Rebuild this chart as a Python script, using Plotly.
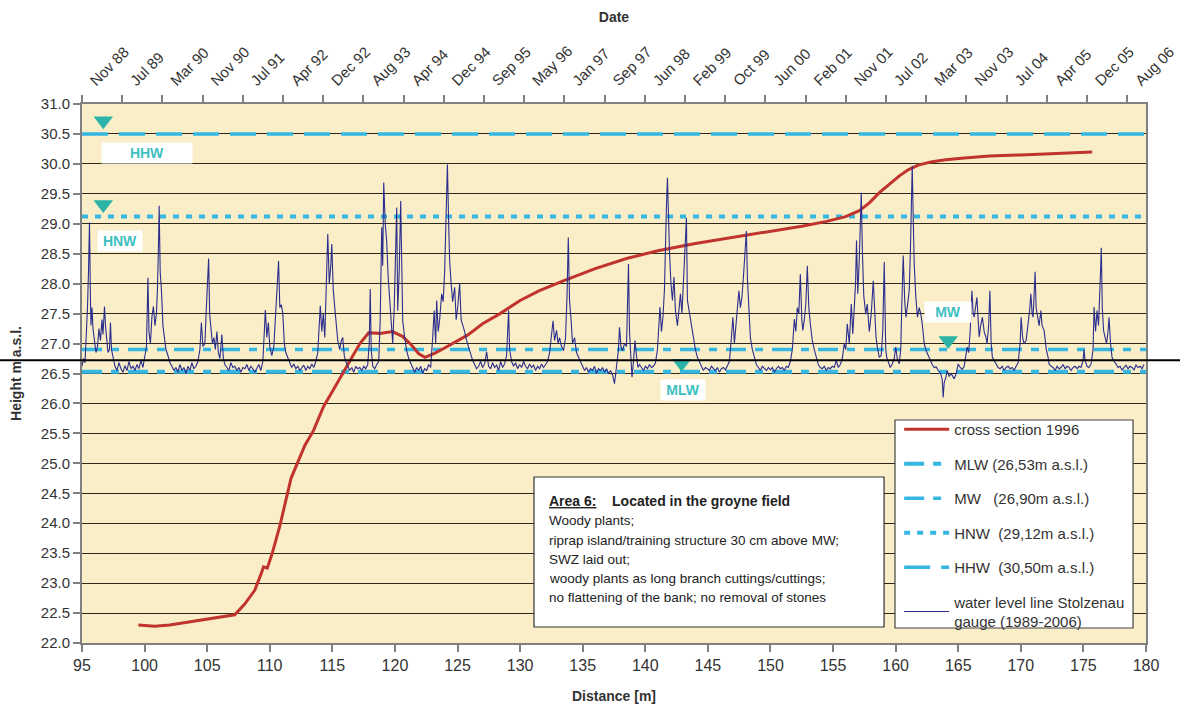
import plotly.graph_objects as go

# ---------------- data ----------------
DIST_RANGE = [95, 180]
HEIGHT_RANGE = [22, 31]

# top (date) axis: time in months since Nov 1988 (axis runs a little past the last tick)
DATE_LABELS = ["Nov 88", "Jul 89", "Mar 90", "Nov 90", "Jul 91", "Apr 92", "Dec 92", "Aug 93",
               "Apr 94", "Dec 94", "Sep 95", "May 96", "Jan 97", "Sep 97", "Jun 98", "Feb 99",
               "Oct 99", "Jun 00", "Feb 01", "Nov 01", "Jul 02", "Mar 03", "Nov 03", "Jul 04",
               "Apr 05", "Dec 05", "Aug 06"]
DATE_RANGE = [0, 213]
DATE_TICK_STEP = 8.048

# cross section 1996 (distance m, height m a.s.l.)
CS_X = [99.5, 100.8, 102.0, 103.5, 105.0, 106.2, 107.2, 108.0, 108.8, 109.3, 109.5, 109.8,
        110.2, 110.8, 111.3, 111.7, 112.2, 112.8, 113.5, 114.3, 115.0, 115.8, 116.5, 117.2,
        117.9, 118.8, 119.8, 120.6, 121.3, 121.9, 122.4, 123.2, 124.0, 124.8, 125.8, 127.0,
        128.4, 130.0, 131.5, 133.5, 136.0, 138.5, 141.0, 144.0, 147.0, 150.0, 152.5, 154.5,
        156.0, 157.1, 157.9, 158.7, 159.5, 160.3, 161.0, 161.8, 162.8, 164.0, 165.5, 167.5,
        170.0, 173.0, 175.7]
CS_Y = [22.30, 22.28, 22.30, 22.35, 22.40, 22.43, 22.47, 22.65, 22.88, 23.15, 23.27, 23.25,
        23.50, 23.95, 24.40, 24.75, 25.00, 25.30, 25.55, 25.95, 26.20, 26.50, 26.75, 27.00,
        27.18, 27.17, 27.20, 27.12, 26.98, 26.83, 26.77, 26.84, 26.93, 27.02, 27.14, 27.33,
        27.50, 27.72, 27.88, 28.05, 28.25, 28.42, 28.55, 28.67, 28.77, 28.87, 28.96, 29.04,
        29.12, 29.22, 29.35, 29.52, 29.66, 29.80, 29.90, 29.98, 30.03, 30.07, 30.10, 30.13,
        30.15, 30.18, 30.20]

# reference water levels
LEVEL_NAMES = ["MLW (26,53m a.s.l.)", "MW\u00a0\u00a0\u00a0(26,90m a.s.l.)",
               "HNW\u00a0\u00a0(29,12m a.s.l.)", "HHW\u00a0\u00a0(30,50m a.s.l.)"]
LEVEL_VALUES = [26.53, 26.90, 29.12, 30.50]

# water level line Stolzenau gauge: (months since Nov 1988, m a.s.l.)
WATER_LEVEL = [
    (0.0, 26.62), (0.3, 26.75), (0.6, 26.68), (0.9, 27.2), (1.1, 27.6), (1.3, 28.2), (1.5, 29.02),
    (1.7, 27.7), (1.8, 27.3), (2.0, 27.6), (2.2, 27.25), (2.5, 27.05), (2.8, 26.85), (3.1, 26.95),
    (3.4, 27.25), (3.7, 27.05), (4.0, 27.4), (4.2, 27.15), (4.5, 27.62), (4.7, 27.3), (4.9, 27.1),
    (5.2, 26.85), (5.5, 26.9), (5.7, 27.35), (5.9, 26.9), (6.2, 26.75), (6.6, 26.62), (7.0, 26.55),
    (7.4, 26.68), (7.8, 26.58), (8.2, 26.52), (8.6, 26.63), (9.0, 26.55), (9.4, 26.7), (9.8, 26.58),
    (10.2, 26.62), (10.6, 26.55), (11.0, 26.65), (11.4, 26.58), (11.8, 26.72), (12.2, 26.6),
    (12.6, 26.8), (12.9, 26.95), (13.2, 28.1), (13.4, 27.2), (13.7, 27.0), (14.0, 27.45),
    (14.3, 27.62), (14.6, 27.3), (14.9, 27.5), (15.1, 27.9), (15.3, 28.6), (15.45, 29.3),
    (15.65, 28.2), (15.9, 27.9), (16.2, 27.3), (16.5, 27.1), (16.8, 26.9), (17.2, 26.8),
    (17.6, 26.68), (18.0, 26.62), (18.4, 26.55), (18.8, 26.6), (19.2, 26.52), (19.6, 26.65),
    (20.0, 26.55), (20.4, 26.6), (20.8, 26.5), (21.2, 26.62), (21.6, 26.55), (22.0, 26.68),
    (22.4, 26.58), (22.8, 26.62), (23.2, 26.7), (23.6, 26.9), (23.9, 27.35), (24.2, 26.95),
    (24.6, 27.0), (24.9, 27.6), (25.1, 28.0), (25.35, 28.42), (25.55, 27.5), (25.8, 27.3),
    (26.1, 27.0), (26.4, 27.1), (26.7, 26.9), (27.0, 27.2), (27.3, 26.85), (27.6, 26.75),
    (28.0, 27.15), (28.3, 26.75), (28.6, 26.65), (29.0, 26.6), (29.4, 26.55), (29.8, 26.68),
    (30.2, 26.6), (30.6, 26.62), (31.0, 26.55), (31.4, 26.6), (31.8, 26.52), (32.2, 26.6),
    (32.6, 26.58), (33.0, 26.65), (33.4, 26.55), (33.8, 26.62), (34.2, 26.58), (34.6, 26.52),
    (35.0, 26.6), (35.4, 26.65), (35.8, 26.55), (36.2, 26.7), (36.5, 27.2), (36.7, 27.56),
    (37.0, 27.1), (37.3, 27.35), (37.6, 26.95), (38.0, 26.8), (38.4, 26.95), (38.7, 27.4),
    (39.0, 27.8), (39.35, 28.38), (39.6, 27.6), (39.9, 27.65), (40.2, 27.5), (40.5, 27.0),
    (40.8, 26.85), (41.2, 26.75), (41.6, 26.68), (42.0, 26.6), (42.4, 26.66), (42.8, 26.58),
    (43.2, 26.62), (43.6, 26.55), (44.0, 26.6), (44.4, 26.64), (44.8, 26.55), (45.2, 26.62),
    (45.6, 26.58), (46.0, 26.66), (46.4, 26.6), (46.8, 26.7), (47.2, 26.85), (47.5, 27.3),
    (47.7, 27.63), (48.0, 27.2), (48.3, 27.5), (48.6, 27.1), (48.9, 27.8), (49.2, 28.83),
    (49.5, 28.0), (49.8, 28.3), (50.0, 28.66), (50.3, 27.9), (50.6, 27.6), (50.9, 27.3),
    (51.2, 27.05), (51.6, 26.9), (51.9, 27.05), (52.2, 27.1), (52.5, 26.8), (52.8, 26.7),
    (53.2, 26.62), (53.6, 26.55), (54.0, 26.6), (54.4, 26.52), (54.8, 26.62), (55.2, 26.58),
    (55.6, 26.6), (56.0, 26.55), (56.4, 26.62), (56.8, 26.58), (57.2, 26.65), (57.5, 27.0),
    (57.7, 27.91), (57.9, 26.9), (58.2, 26.62), (58.6, 26.58), (59.0, 26.65), (59.4, 26.7),
    (59.7, 27.4), (60.0, 28.94), (60.2, 28.3), (60.4, 29.69), (60.7, 29.0), (61.0, 28.7),
    (61.3, 28.1), (61.6, 27.75), (61.9, 27.4), (62.2, 27.0), (62.5, 27.6), (62.8, 28.5),
    (63.0, 29.27), (63.2, 27.55), (63.5, 28.2), (63.8, 29.38), (64.0, 28.0), (64.2, 27.38),
    (64.6, 27.1), (65.0, 26.88), (65.4, 26.75), (65.8, 26.68), (66.2, 26.6), (66.6, 26.52),
    (67.0, 26.6), (67.4, 26.55), (67.8, 26.62), (68.2, 26.5), (68.6, 26.58), (69.0, 26.55),
    (69.4, 26.65), (69.8, 26.6), (70.2, 27.1), (70.5, 27.55), (70.8, 27.0), (71.0, 27.72),
    (71.3, 27.2), (71.6, 27.4), (72.0, 27.83), (72.3, 27.7), (72.6, 28.2), (72.9, 29.0),
    (73.15, 29.99), (73.4, 29.0), (73.6, 28.38), (73.9, 28.0), (74.2, 27.7), (74.6, 27.94),
    (74.9, 27.4), (75.2, 27.6), (75.6, 28.0), (75.9, 27.4), (76.2, 27.33), (76.6, 27.2),
    (77.0, 27.05), (77.4, 26.94), (77.8, 26.8), (78.2, 26.72), (78.6, 26.65), (79.0, 26.58),
    (79.4, 26.62), (79.8, 26.7), (80.2, 26.6), (80.6, 26.66), (81.0, 26.86), (81.4, 26.62),
    (81.8, 26.58), (82.2, 26.68), (82.6, 26.6), (83.0, 26.64), (83.4, 26.55), (83.8, 26.7),
    (84.2, 26.6), (84.6, 26.66), (85.0, 26.8), (85.2, 27.1), (85.4, 27.55), (85.6, 26.9),
    (86.0, 26.7), (86.4, 26.62), (86.8, 26.68), (87.2, 26.58), (87.6, 26.65), (88.0, 26.6),
    (88.4, 26.7), (88.8, 26.62), (89.2, 26.58), (89.6, 26.66), (90.0, 26.6), (90.4, 26.64),
    (90.8, 26.55), (91.2, 26.62), (91.6, 26.58), (92.0, 26.66), (92.4, 26.6), (92.8, 26.65),
    (93.2, 26.7), (93.6, 26.85), (94.0, 27.1), (94.3, 27.38), (94.6, 27.05), (95.0, 27.22),
    (95.3, 27.0), (95.6, 27.1), (96.0, 26.95), (96.4, 26.88), (96.8, 27.1), (97.1, 27.8),
    (97.35, 28.77), (97.6, 27.72), (97.9, 27.4), (98.2, 27.0), (98.6, 27.1), (99.0, 26.85),
    (99.4, 26.77), (99.8, 26.7), (100.2, 26.62), (100.6, 26.55), (101.0, 26.6), (101.4, 26.52),
    (101.8, 26.58), (102.2, 26.55), (102.6, 26.62), (103.0, 26.5), (103.4, 26.58), (103.8, 26.55),
    (104.2, 26.6), (104.6, 26.52), (105.0, 26.58), (105.4, 26.5), (105.8, 26.55), (106.2, 26.48),
    (106.6, 26.33), (107.0, 26.6), (107.4, 26.9), (107.6, 27.27), (107.9, 26.95), (108.2, 26.88),
    (108.6, 27.0), (109.0, 26.95), (109.2, 27.6), (109.4, 28.33), (109.6, 27.2), (109.8, 26.88),
    (110.1, 26.44), (110.4, 26.7), (110.7, 27.05), (111.0, 26.8), (111.3, 26.6), (111.6, 26.65),
    (112.0, 26.6), (112.4, 26.55), (112.8, 26.62), (113.2, 26.58), (113.6, 26.65), (114.0, 26.6),
    (114.4, 26.62), (114.8, 26.68), (115.2, 26.9), (115.5, 27.4), (115.7, 27.61), (116.0, 27.2),
    (116.3, 27.44), (116.6, 27.9), (116.8, 28.77), (117.0, 29.3), (117.2, 29.77), (117.4, 28.9),
    (117.6, 28.55), (117.9, 28.0), (118.2, 27.72), (118.5, 28.11), (118.8, 27.55), (119.2, 27.3),
    (119.5, 27.55), (119.8, 27.83), (120.1, 27.5), (120.4, 28.0), (120.7, 28.5), (121.0, 29.1),
    (121.2, 27.72), (121.6, 27.5), (122.0, 27.33), (122.4, 27.05), (122.8, 26.9), (123.2, 26.77),
    (123.6, 26.68), (124.0, 26.62), (124.4, 26.55), (124.8, 26.6), (125.2, 26.58), (125.6, 26.55),
    (126.0, 26.62), (126.4, 26.58), (126.8, 26.55), (127.2, 26.6), (127.6, 26.52), (128.0, 26.58),
    (128.4, 26.6), (128.8, 26.56), (129.2, 26.62), (129.6, 26.7), (130.0, 27.1), (130.3, 27.44),
    (130.6, 27.0), (130.9, 27.3), (131.2, 27.6), (131.5, 27.88), (131.8, 27.6), (132.1, 27.77),
    (132.4, 28.1), (132.7, 28.5), (133.0, 28.88), (133.2, 28.1), (133.5, 27.5), (133.8, 27.1),
    (134.2, 26.9), (134.6, 26.77), (135.0, 26.65), (135.4, 26.6), (135.8, 26.55), (136.2, 26.62),
    (136.6, 26.58), (137.0, 26.55), (137.4, 26.6), (137.8, 26.56), (138.2, 26.6), (138.6, 26.52),
    (139.0, 26.58), (139.4, 26.62), (139.8, 26.58), (140.2, 26.6), (140.6, 26.55), (141.0, 26.62),
    (141.4, 26.6), (141.8, 26.7), (142.2, 26.9), (142.6, 27.41), (142.9, 27.2), (143.2, 27.6),
    (143.5, 27.5), (143.8, 28.16), (144.1, 27.4), (144.3, 27.22), (144.6, 27.4), (144.9, 27.66),
    (145.2, 28.3), (145.5, 27.6), (145.8, 27.33), (146.2, 27.05), (146.6, 26.9), (147.0, 26.77),
    (147.4, 26.65), (147.8, 26.6), (148.2, 26.58), (148.6, 26.62), (149.0, 26.55), (149.4, 26.6),
    (149.8, 26.58), (150.2, 26.62), (150.6, 26.6), (151.0, 26.72), (151.4, 26.6), (151.8, 26.65),
    (152.2, 26.75), (152.6, 27.0), (152.9, 26.9), (153.2, 27.33), (153.6, 27.0), (154.0, 27.66),
    (154.3, 27.16), (154.6, 27.6), (154.85, 28.0), (155.05, 28.72), (155.3, 27.83), (155.6, 28.4),
    (155.8, 29.0), (156.0, 29.52), (156.2, 28.61), (156.5, 27.8), (156.9, 27.49), (157.2, 27.66),
    (157.6, 27.2), (158.0, 27.5), (158.4, 28.05), (158.7, 27.4), (158.95, 27.11), (159.2, 26.95),
    (159.6, 26.77), (160.0, 26.8), (160.3, 27.2), (160.6, 28.36), (160.9, 26.9), (161.1, 26.77),
    (161.4, 26.7), (161.8, 26.6), (162.2, 26.66), (162.6, 26.75), (162.9, 26.94), (163.2, 26.75),
    (163.6, 26.66), (163.9, 26.9), (164.1, 27.6), (164.4, 28.47), (164.7, 27.7), (164.95, 27.44),
    (165.2, 27.6), (165.6, 27.88), (165.85, 28.6), (166.0, 29.3), (166.2, 29.97), (166.45, 28.9),
    (166.6, 28.33), (166.9, 27.8), (167.25, 27.44), (167.6, 27.6), (167.9, 27.5), (168.2, 27.33),
    (168.6, 27.0), (169.0, 26.88), (169.4, 26.8), (169.9, 26.72), (170.2, 26.65), (170.6, 26.6),
    (171.0, 26.61), (171.4, 26.55), (171.9, 26.5), (172.2, 26.4), (172.4, 26.1), (172.6, 26.35),
    (172.95, 26.44), (173.2, 26.55), (173.6, 26.45), (174.0, 26.5), (174.6, 26.41), (175.0, 26.5),
    (175.4, 26.66), (175.8, 26.6), (176.2, 26.57), (176.6, 26.62), (176.9, 26.75), (177.2, 26.94),
    (177.5, 26.85), (177.8, 27.2), (178.15, 27.88), (178.4, 27.5), (178.6, 27.44), (178.9, 27.6),
    (179.15, 27.77), (179.4, 27.4), (179.6, 27.11), (179.9, 27.3), (180.25, 27.44), (180.6, 27.2),
    (180.95, 27.11), (181.2, 27.0), (181.5, 27.3), (181.75, 27.88), (182.0, 27.0), (182.25, 26.77),
    (182.6, 26.72), (183.0, 26.66), (183.4, 26.6), (183.8, 26.58), (184.2, 26.62), (184.6, 26.55),
    (185.0, 26.6), (185.4, 26.62), (185.8, 26.58), (186.2, 26.6), (186.6, 26.55), (187.0, 26.62),
    (187.4, 26.68), (187.8, 27.0), (188.0, 27.44), (188.3, 27.1), (188.6, 27.0), (189.0, 27.05),
    (189.4, 27.3), (189.7, 27.55), (189.95, 27.83), (190.2, 27.5), (190.4, 27.44), (190.6, 27.8),
    (190.8, 28.2), (191.0, 27.6), (191.25, 27.44), (191.6, 27.3), (191.95, 27.55), (192.2, 27.3),
    (192.6, 27.22), (193.05, 26.9), (193.4, 26.77), (193.6, 26.66), (194.0, 26.62), (194.4, 26.6),
    (194.8, 26.55), (195.2, 26.62), (195.6, 26.58), (196.0, 26.6), (196.4, 26.65), (196.8, 26.58),
    (197.2, 26.62), (197.6, 26.6), (198.0, 26.55), (198.4, 26.6), (198.8, 26.62), (199.2, 26.58),
    (199.6, 26.62), (200.0, 26.6), (200.4, 26.72), (200.6, 26.9), (200.8, 26.72), (201.2, 26.62),
    (201.6, 26.6), (202.0, 26.66), (202.4, 26.9), (202.6, 27.61), (202.9, 27.2), (203.2, 27.55),
    (203.5, 27.3), (203.7, 27.66), (203.9, 28.2), (204.05, 28.6), (204.25, 27.6), (204.5, 27.22),
    (204.8, 27.1), (205.1, 27.0), (205.4, 27.2), (205.6, 27.44), (205.9, 27.0), (206.2, 26.77),
    (206.6, 26.7), (207.0, 26.66), (207.4, 26.6), (207.8, 26.62), (208.2, 26.56), (208.6, 26.6),
    (209.0, 26.64), (209.4, 26.58), (209.8, 26.62), (210.2, 26.6), (210.6, 26.56), (211.0, 26.64),
    (211.4, 26.6), (211.8, 26.62), (212.2, 26.58), (212.6, 26.65),
]
WL_MONTHS = [p[0] for p in WATER_LEVEL]
WL_LEVELS = [p[1] for p in WATER_LEVEL]

# level marker triangles and their labels
MARKER_X = [96.7, 96.7, 164.2, 142.9]
MARKER_Y = [30.72, 29.32, 27.05, 26.67]
LABEL_TEXT = ["HHW", "HNW", "MW", "MLW"]
LABEL_X = [100.2, 98.0, 164.2, 143.0]
LABEL_Y = [30.18, 28.72, 27.53, 26.23]
LABEL_BOX_W = [86, 40, 42, 40]

BLACK_LINE_Y = 26.72

BOX_TITLE = "<b><u>Area 6:</u>\u00a0\u00a0\u00a0 Located in the groyne field</b>"
BOX_LINES = ["Woody plants;",
             "riprap island/training structure 30 cm above MW;",
             "SWZ laid out;",
             "woody plants as long branch cuttings/cuttings;",
             "no flattening of the bank; no removal of stones"]

# ---------------- style ----------------
FONT = "Liberation Sans, Arial, sans-serif"
LINE_BLUE = "#36B7E2"
TEAL = "#2DB4A8"
TEAL_TEXT = "#3DBFC0"
RED = "#C0342D"
NAVY = "#2C2E8E"
GRID = "#2E2818"
AXIS_GRAY = "#808080"
PLOT_BG = "#F9EEC8"

LEVEL_DASH = ["20px,9px,8px,9px", "20px,9px,8px,9px", "6px,7px", "26px,11px"]
LEVEL_WIDTH = [4, 3.5, 4, 3.5]

fig = go.Figure()

for i, (name, val) in enumerate(zip(LEVEL_NAMES, LEVEL_VALUES)):
    fig.add_trace(go.Scatter(
        x=DIST_RANGE, y=[val, val], mode="lines", name=name,
        line=dict(color=LINE_BLUE, width=LEVEL_WIDTH[i], dash=LEVEL_DASH[i]),
        legendgroup=name, legendrank=2 + i, hoverinfo="skip"))

fig.add_trace(go.Scatter(
    x=WL_MONTHS, y=WL_LEVELS, xaxis="x2", yaxis="y", mode="lines",
    name="water level line Stolzenau<br>gauge (1989-2006)",
    line=dict(color=NAVY, width=1.1), legendgroup="wl", legendrank=6))

fig.add_trace(go.Scatter(
    x=CS_X, y=CS_Y, mode="lines", name="cross section 1996",
    line=dict(color=RED, width=3), legendgroup="cs", legendrank=1))

fig.add_trace(go.Scatter(
    x=MARKER_X, y=MARKER_Y, mode="markers", showlegend=False, hoverinfo="skip",
    marker=dict(symbol="triangle-down", size=17, color=TEAL, line=dict(width=0))))

annotations = []
for t, x, y, w in zip(LABEL_TEXT, LABEL_X, LABEL_Y, LABEL_BOX_W):
    annotations.append(dict(
        x=x, y=y, xref="x", yref="y", text="<b>%s</b>" % t, showarrow=False,
        font=dict(family=FONT, size=14, color=TEAL_TEXT), bgcolor="white",
        width=w, borderpad=2, xanchor="center", yanchor="middle"))

# info box text
box_left, box_right = 0.4248, 0.7538
box_bottom, box_top = 0.0297, 0.308
annotations.append(dict(
    x=0.437, y=0.2635, xref="paper", yref="paper", text=BOX_TITLE, showarrow=False,
    xanchor="left", yanchor="middle", font=dict(family=FONT, size=14, color="#222")))
for i, line in enumerate(BOX_LINES):
    annotations.append(dict(
        x=0.437, y=0.2265 - i * 0.0356, xref="paper", yref="paper", text=line,
        showarrow=False, xanchor="left", yanchor="middle",
        font=dict(family=FONT, size=13.5, color="#222")))

shapes = [
    dict(type="rect", xref="paper", yref="paper", x0=box_left, x1=box_right,
         y0=box_bottom, y1=box_top, fillcolor="white", line=dict(color="#333", width=1.2),
         layer="above"),
    # legend frame
    dict(type="rect", xref="paper", yref="paper", x0=0.7641, x1=0.9878,
         y0=0.0278, y1=0.4137, fillcolor="white", line=dict(color="#444", width=1.2),
         layer="above"),
    dict(type="line", xref="paper", yref="y", x0=-0.077, x1=1.032,
         y0=BLACK_LINE_Y, y1=BLACK_LINE_Y, line=dict(color="black", width=2)),
]

fig.update_layout(
    width=1185, height=706,
    margin=dict(l=82, r=39, t=104, b=63, pad=0),
    paper_bgcolor="white", plot_bgcolor=PLOT_BG,
    font=dict(family=FONT, size=14, color="#333"),
    showlegend=True,
    legend=dict(x=0.768, y=0.4267, xanchor="left", yanchor="top",
                bgcolor="rgba(0,0,0,0)", borderwidth=0,
                font=dict(family=FONT, size=15, color="#333"),
                tracegroupgap=12, itemwidth=45, traceorder="grouped"),
    xaxis=dict(range=DIST_RANGE, tick0=95, dtick=5, ticks="outside", ticklen=7,
               tickcolor=AXIS_GRAY, tickwidth=1.5, showline=True, linecolor=AXIS_GRAY,
               linewidth=2, showgrid=False, zeroline=False, automargin=False,
               tickfont=dict(size=16, color="#333"),
               title=dict(text="<b>Distance [m]</b>", font=dict(size=14, color="#333"),
                          standoff=18)),
    xaxis2=dict(range=DATE_RANGE, overlaying="x", side="top", tickmode="array",
                tickvals=[k * DATE_TICK_STEP for k in range(len(DATE_LABELS))],
                ticktext=DATE_LABELS, tickangle=-45,
                ticks="outside", ticklen=7, tickcolor=AXIS_GRAY, tickwidth=1.5,
                showline=True, linecolor=AXIS_GRAY, linewidth=2, showgrid=False,
                zeroline=False, automargin=False, tickfont=dict(size=15, color="#333"),
                ticklabeloverflow="allow", ticklabelshift=9,
                title=dict(text="<b>Date</b>", font=dict(size=14, color="#333"),
                           standoff=16)),
    yaxis=dict(range=HEIGHT_RANGE, tick0=22, dtick=0.5, tickformat=".1f",
               ticks="outside", ticklen=7, tickcolor=AXIS_GRAY, tickwidth=1.5,
               showline=True, linecolor=AXIS_GRAY, linewidth=2, mirror=True,
               showgrid=True, gridcolor=GRID, gridwidth=1, zeroline=False,
               automargin=False, tickfont=dict(size=15, color="#333"),
               title=dict(text="<b>Height m a.s.l.</b>", font=dict(size=14, color="#333"),
                          standoff=16)),
    annotations=annotations,
    shapes=shapes,
)

fig.write_html("out.html")
